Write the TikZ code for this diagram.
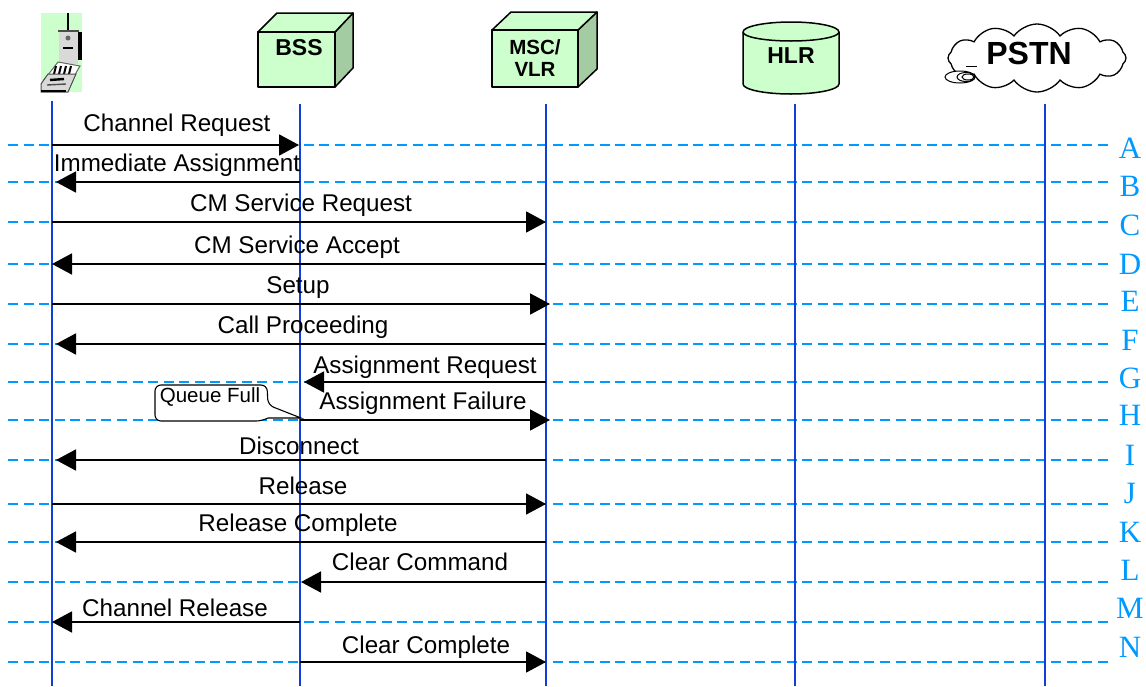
\documentclass[tikz,border=0pt]{standalone}
\usepackage{fontspec}
\setmainfont{Liberation Sans}
\newfontfamily\letterfont{Liberation Serif}
\usetikzlibrary{positioning,calc,arrows.meta,shapes.geometric,shapes.symbols}
\definecolor{boxgreen}{HTML}{CCFFCC}
\definecolor{sidegreen}{HTML}{A3CCA3}
\definecolor{rowblue}{HTML}{0099FF}
\definecolor{lifeblue}{HTML}{0F3FD8}
\tikzset{
	msg/.style={draw=black, line width=1.8pt, -{Triangle[length=20pt,width=21pt]}},
	rowline/.style={draw=rowblue, line width=1.5pt, dash pattern=on 10pt off 5.57pt},
	lifeline/.style={draw=lifeblue, line width=1.4pt},
	lbl/.style={font=\fontsize{24.2}{26}\selectfont, inner sep=0pt, yshift=-1.5pt},
	rowlbl/.style={font=\letterfont\fontsize{31}{33}\selectfont, text=rowblue, inner sep=0pt},
	boxlbl/.style={font=\bfseries\fontsize{#1}{#1}\selectfont, align=center, inner sep=0pt},
	boxline/.style={draw=black, line width=1.5pt, line join=round}
}
\begin{document}
\begin{tikzpicture}[x=1pt, y=-1pt]
	\useasboundingbox (0,0) rectangle (1146,686);

	% rows
	\foreach \name/\y/\ly in {A/145/148, B/182/186, C/222/225, D/264/264, E/304/301, F/344/340, G/382/378, H/420/415, I/460/455, J/504/493, K/542/532, L/582/570, M/622/608, N/662/647} {
		\coordinate (left\name) at (8, \y);
		\coordinate (right\name) at (1108, \y);
		\coordinate (ms\name) at (52, \y);
		\coordinate (bss\name) at (300, \y);
		\coordinate (msc\name) at (546, \y);
		\draw[rowline] (left\name) -- (right\name);
		\node[rowlbl] (letter\name) at (1130, \ly) {\name};
	}

	% lifelines
	\foreach \name/\x/\y in {ms/52/101, bss/300/104, msc/546/104, hlr/795/104, pstn/1045/104} {
		\coordinate (\name top) at (\x, \y);
		\coordinate (\name end) at (\x, 686);
		\draw[lifeline] (\name top) -- (\name end);
	}

	% mobile
	\fill[boxgreen] (41,13) rectangle (82,92);
	\draw[line width=2.2pt] (68,13) -- (68,30);
	\fill[black!15] (59,30) rectangle (78,64);
	\fill[black] (78,32) rectangle (82,60);
	\draw[black!70, line width=1.5pt] (58,31) -- (79,31);
	\draw[black, line width=1.4pt] (63,48) -- (73,48);
	\fill[black!60] (68,38) circle (2.5pt);
	\fill[white, draw=black!60, line width=1pt] (58,62) -- (80,66) -- (72,80) -- (44,80) -- cycle;
	\foreach \k in {0,1,2,3} {
		\draw[black, line width=2pt] (56+5*\k,66) -- (54+5*\k,74);
	}
	\fill[black!15, draw=black!70, line width=1pt] (41,92) -- (41,84) -- (48,74) -- (76,74) -- (68,92) -- cycle;
	\draw[black, line width=2.4pt] (50,80) -- (64,79);
	\draw[black!70, line width=1.4pt] (47,85) -- (66,84);
	\draw[black, line width=1.8pt] (41,91) -- (66,91);

	% cubes
	\filldraw[boxline, fill=sidegreen] (335,32) -- (353,13) -- (353,68) -- (335,87) -- cycle;
	\filldraw[boxline, fill=boxgreen] (258,32) -- (277,13) -- (353,13) -- (335,32) -- cycle;
	\filldraw[boxline, fill=boxgreen] (258,32) rectangle (335,87);
	\node[boxlbl=23] (bss) at (299,48) {BSS};

	\filldraw[boxline, fill=sidegreen] (578,30) -- (597,12) -- (597,69) -- (578,87) -- cycle;
	\filldraw[boxline, fill=boxgreen] (492,30) -- (511,12) -- (597,12) -- (578,30) -- cycle;
	\filldraw[boxline, fill=boxgreen] (492,30) rectangle (578,87);
	\node[boxlbl=20.5] (msc) at (535,58) {MSC/\\[2pt]VLR};

	% cylinder
	\filldraw[boxline, fill=boxgreen] (743,32) -- (743,84) arc[start angle=180, end angle=360, x radius=48, y radius=-10] -- (839,32) arc[start angle=0, end angle=180, x radius=48, y radius=-10] -- cycle;
	\draw[boxline] (743,32) arc[start angle=180, end angle=360, x radius=48, y radius=-9];
	\node[boxlbl=23] (hlr) at (791,56) {HLR};

	% cloud
	\node[cloud, cloud puffs=12, cloud puff arc=110, aspect=2.7, draw=black, line width=1.3pt, fill=white, minimum width=178pt, minimum height=68pt, inner sep=0pt] (pstncloud) at (1037,58) {};
	\node[boxlbl=32] (pstn) at (1029,53) {PSTN};
	\draw[black, line width=1pt, fill=white] (960,77) ellipse (15pt and 6pt);
	\draw[black, line width=1pt] (966,77) ellipse (9pt and 4.5pt);
	\draw[black, line width=1pt] (968,77) ellipse (6pt and 3pt);
	\draw[black, line width=1pt] (966,66) -- (977,66);

	% messages
	\draw[msg, shorten >=1pt] (msA) -- (bssA);
	\node[lbl] (m1) at (177,124) {Channel Request};
	\draw[msg, shorten >=4pt] (bssB) -- (msB);
	\node[lbl] (m2) at (177,164) {Immediate Assignment};
	\draw[msg] (msC) -- (mscC);
	\node[lbl] (m3) at (301,204) {CM Service Request};
	\draw[msg] (mscD) -- (msD);
	\node[lbl] (m4) at (297,246) {CM Service Accept};
	\draw[msg, shorten >=-4pt] (msE) -- (mscE);
	\node[lbl] (m5) at (298,286) {Setup};
	\draw[msg, shorten >=4pt] (mscF) -- (msF);
	\node[lbl] (m6) at (303,326) {Call Proceeding};
	\draw[msg, shorten >=4pt] (mscG) -- (bssG);
	\node[lbl] (m7) at (425,366) {Assignment Request};
	\draw[msg, shorten >=-4pt] (bssH) -- (mscH);
	\node[lbl] (m8) at (423,402) {Assignment Failure};
	\draw[msg, shorten >=4pt] (mscI) -- (msI);
	\node[lbl] (m9) at (299,444) {Disconnect};
	\draw[msg] (msJ) -- (mscJ);
	\node[lbl] (m10) at (303,484) {Release};
	\draw[msg, shorten >=4pt] (mscK) -- (msK);
	\node[lbl] (m11) at (298,524) {Release Complete};
	\draw[msg, shorten >=1pt] (mscL) -- (bssL);
	\node[lbl] (m12) at (420,560) {Clear Command};
	\draw[msg] (bssM) -- (msM);
	\node[lbl] (m13) at (175,606) {Channel Release};
	\draw[msg] (bssN) -- (mscN);
	\node[lbl] (m14) at (426,646) {Clear Complete};

	% callout
	\filldraw[draw=black, line width=1.1pt, fill=white, rounded corners=6pt] (155,385) -- (267,385) -- (268,405) [sharp corners] -- (301,418) -- (268,418) [rounded corners=6pt] -- (262,421) -- (155,421) -- cycle;
	\node[font=\fontsize{20.5}{22}\selectfont, inner sep=0pt] (queue) at (210,397) {Queue Full};
\end{tikzpicture}
\end{document}
